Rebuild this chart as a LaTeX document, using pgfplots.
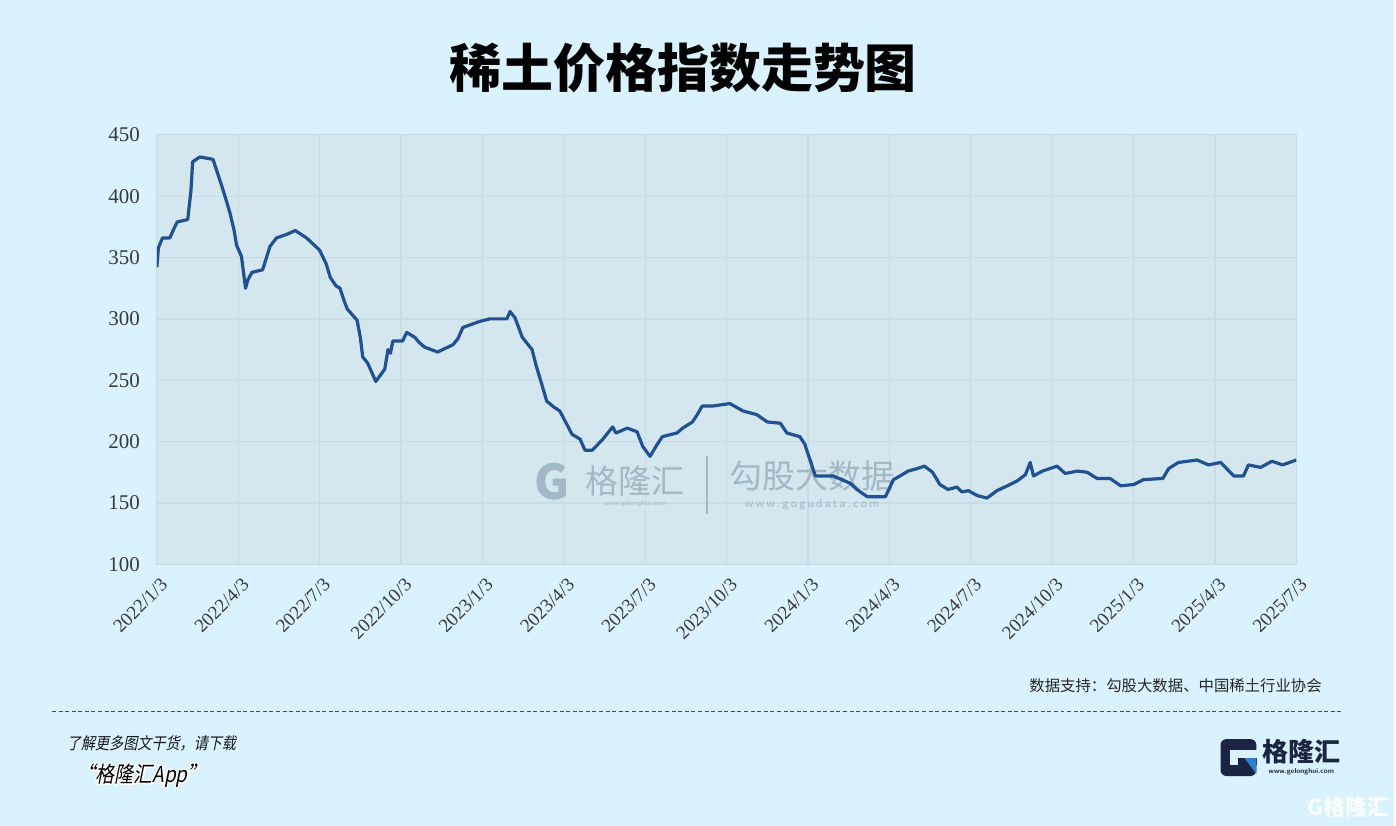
\documentclass[border=0pt]{standalone}
\usepackage{pgfplots}
\pgfplotsset{compat=1.18}
\usepackage{fontspec}
\setmainfont{Liberation Serif}
\newfontfamily\cjk{Noto Sans CJK SC}
\newfontfamily\cjkit[FakeSlant=0.2,FakeStretch=0.86]{Noto Sans CJK SC}
\definecolor{bgc}{HTML}{D9F2FD}
\definecolor{plotbg}{HTML}{D4E7EF}
\definecolor{gridc}{HTML}{C8DCE5}
\definecolor{linec}{HTML}{215190}
\definecolor{labc}{HTML}{3A3A3A}
\definecolor{wmc}{HTML}{A3B8C6}
\definecolor{navy}{HTML}{1B2442}
\definecolor{gblue}{HTML}{2F7FD0}
\begin{document}
\begin{tikzpicture}
\begin{scope}[x=0.5pt,y=0.5pt]
\fill[bgc] (0,0) rectangle (1396,827);
\node[font=\cjk\bfseries\fontsize{26}{26}\selectfont, text=black] at (684,759) {稀土价格指数走势图};
\end{scope}
\begin{axis}[
  at={(78.5pt,131pt)}, anchor=south west,
  scale only axis, width=570.5pt, height=215pt,
  xmin=0, xmax=14, ymin=100, ymax=450,
  axis background/.style={fill=plotbg},
  axis line style={draw=gridc},
  grid=major, major grid style={draw=gridc, line width=0.6pt},
  xtick={0,...,14},
  xticklabels={2022/1/3,2022/4/3,2022/7/3,2022/10/3,2023/1/3,2023/4/3,2023/7/3,2023/10/3,2024/1/3,2024/4/3,2024/7/3,2024/10/3,2025/1/3,2025/4/3,2025/7/3},
  ytick={100,150,...,450},
  tick style={draw=none},
  /pgf/number format/assume math mode=true,
  /pgf/number format/1000 sep={},
  x tick label style={rotate=45, anchor=north east, font=\fontsize{9.5}{9.5}\selectfont, text=labc, yshift=-2pt},
  y tick label style={font=\fontsize{10.5}{10.5}\selectfont, text=labc, xshift=-5pt},
]
\node[text=wmc, font=\cjk\bfseries\fontsize{24}{24}\selectfont] at (axis cs:4.86,167) {G};
\node[text=wmc, font=\cjk\fontsize{16.5}{16.5}\selectfont] at (axis cs:5.875,168) {格隆汇};
\node[text=wmc, font=\sffamily\fontsize{3.5}{3.5}\selectfont] at (axis cs:5.875,149) {www.gelonghui.com};
\draw[wmc, line width=0.6pt] (axis cs:6.76,188) -- (axis cs:6.76,141);
\node[text=wmc, font=\cjk\fontsize{16.5}{16.5}\selectfont] at (axis cs:8.05,172) {勾股大数据};
\node[text=wmc, font=\sffamily\fontsize{6}{6}\selectfont] at (axis cs:8.05,149) {w\,w\,w\,.\,g\,o\,g\,u\,d\,a\,t\,a\,.\,c\,o\,m};
\addplot[linec, line width=1.6pt, line join=round] coordinates {
(0,342) (0.02,358) (0.07,366) (0.16,366) (0.20,372) (0.25,379) (0.38,381) (0.42,405) (0.44,428) (0.53,432) (0.69,430)
(0.75,418) (0.80,408) (0.86,395) (0.90,386) (0.95,372) (0.98,360) (1.04,351) (1.09,325) (1.12,332) (1.17,338) (1.30,340) (1.39,359) (1.47,366)
(1.60,369) (1.70,372) (1.84,366) (1.92,361) (2.00,356) (2.08,345) (2.13,334) (2.20,327) (2.25,325) (2.30,315) (2.34,308) (2.46,299) (2.50,285) (2.53,269) (2.59,264)
(2.69,249) (2.80,259) (2.84,275) (2.87,272) (2.90,282) (3.02,282) (3.07,289) (3.17,285) (3.22,281) (3.29,277) (3.45,273)
(3.64,279) (3.70,284) (3.76,293) (3.97,298) (4.09,300) (4.30,300) (4.34,306) (4.40,301) (4.49,285) (4.61,275)
(4.66,262) (4.71,251) (4.79,233) (4.88,228) (4.95,225) (5.03,215) (5.10,206) (5.20,202) (5.26,193) (5.35,193) (5.48,202) (5.60,212) (5.64,207)
(5.78,211) (5.90,208) (5.97,196) (6.06,188) (6.14,197) (6.21,204) (6.39,207) (6.46,211) (6.58,216) (6.64,222) (6.70,229)
(6.83,229) (7.04,231) (7.20,225) (7.37,222) (7.50,216) (7.66,215) (7.74,207) (7.90,204) (7.96,198)
(8.05,180) (8.09,172) (8.31,172) (8.52,166) (8.60,161) (8.73,155) (8.95,155) (9.05,169) (9.13,172)
(9.23,176) (9.34,178) (9.43,180) (9.53,175) (9.62,165) (9.72,161) (9.83,163) (9.89,159) (9.97,160)
(10.08,156) (10.20,154) (10.32,160) (10.45,164) (10.57,168) (10.67,173) (10.73,183) (10.77,172)
(10.88,176) (11.06,180) (11.16,174) (11.31,176) (11.43,175) (11.55,170) (11.71,170) (11.84,164)
(12.00,165) (12.12,169) (12.36,170) (12.43,178) (12.55,183) (12.78,185) (12.92,181) (13.07,183)
(13.23,172) (13.35,172) (13.41,181) (13.56,179) (13.70,184) (13.83,181) (14.00,185)
};
\end{axis}
\begin{scope}[x=0.5pt,y=0.5pt]
% source
\node[font=\cjk\fontsize{7.7}{7.7}\selectfont, text=black!85] at (1177,140) {数据支持：勾股大数据、中国稀土行业协会};
\draw[black!70, line width=0.5pt, dash pattern=on 2pt off 1.3pt] (52,115) -- (1345,115);
% bottom left
\node[anchor=west, font=\cjkit\fontsize{8.2}{8.2}\selectfont, text=black!90] at (60,83) {了解更多图文干货，请下载};
\foreach \dx/\dy in {-1.5/0,1.5/0,0/-1.5,0/1.5,-1/-1,1/1,-1/1,1/-1}{
  \node[anchor=west, font=\cjkit\fontsize{11}{11}\selectfont, text=white] at ({70+\dx},{50+\dy}) {“格隆汇App”};
}
\node[anchor=west, font=\cjkit\fontsize{11}{11}\selectfont, text=black] at (70,50) {“格隆汇App”};
% logo
\fill[navy, rounded corners=3pt] (1222,50) rectangle (1258,87);
\fill[bgc] (1232,61) rectangle (1259,76);
\fill[navy] (1240,61) rectangle (1259,68);
\fill[gblue] (1246,68) -- (1258,68) -- (1258,52) -- cycle;
\node[font=\cjk\bfseries\fontsize{13}{13}\selectfont, text=navy] at (1303,74) {格隆汇};
\node[font=\sffamily\bfseries\fontsize{3.6}{3.6}\selectfont, text=navy] at (1303,54) {www.gelonghui.com};
% watermark
\node[font=\cjk\bfseries\fontsize{11}{11}\selectfont, text=white, opacity=0.85] at (1350,19) {G格隆汇};
\end{scope}
\end{tikzpicture}
\end{document}
